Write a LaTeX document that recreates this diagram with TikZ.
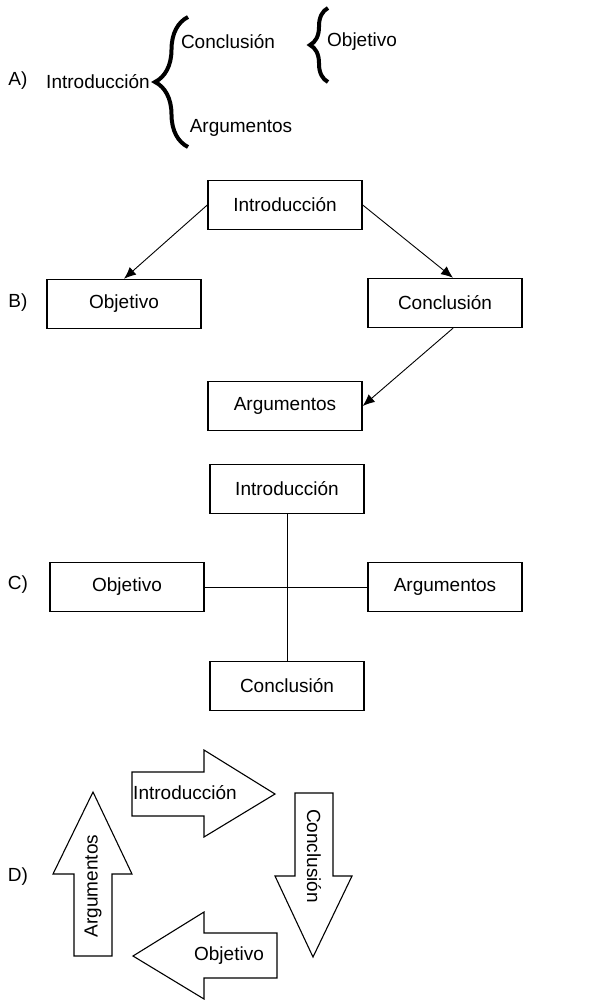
\documentclass[tikz,border=0pt]{standalone}
\usepackage{fontspec}
\setmainfont{Liberation Sans}
\usetikzlibrary{arrows.meta,decorations.pathreplacing}
\begin{document}
\begin{tikzpicture}[x=1pt,y=-1pt,>={Latex[length=12pt,width=10pt]},
  font=\fontsize{19}{22}\selectfont,
  caja/.style={draw,line width=1.4pt,minimum width=154,minimum height=49},
  llave/.style={decorate,decoration={brace,amplitude=#1},line width=4pt},
  flecha/.style={draw,line width=1.1pt,line join=miter}]
\useasboundingbox (0,0) rectangle (592,1000);

\foreach \y/\letra in {81/A,303/B,585/C,877/D}
{
    \node (l\letra) at (18,\y) {\letra)};
}

\node (aint) at (98,82) {Introducción};
\node (acon) at (228,42) {Conclusión};
\node (aarg) at (241,128) {Argumentos};
\node (aobj) at (362,42) {Objetivo};
\draw[llave=33] (188,147) -- (188,17);
\draw[llave=18] (328,82) -- (328,8);

\node[caja] (bint) at (285,205) {Introducción};
\node[caja] (bobj) at (124,304) {Objetivo};
\node[caja] (bcon) at (445,303) {Conclusión};
\node[caja] (barg) at (285,406) {Argumentos};
\draw[->,line width=0.9pt] (bint.west) -- (bobj.north);
\draw[->,line width=0.9pt] (bint.east) -- ([xshift=8]bcon.north);
\draw[->,line width=0.9pt] ([xshift=8]bcon.south) -- (barg.east);

\node[caja] (cint) at (287,489) {Introducción};
\node[caja] (cobj) at (127,587) {Objetivo};
\node[caja] (carg) at (445,587) {Argumentos};
\node[caja] (ccon) at (287,686) {Conclusión};
\draw[line width=0.9pt] (cint.south) -- (ccon.north);
\draw[line width=0.9pt] (cobj.east) -- (carg.west);

\path[flecha] (132,772) -- (204,772) -- (204,750) -- (275,794) -- (204,837) -- (204,816) -- (132,816) -- cycle;
\path[flecha] (295,793) -- (333,793) -- (333,876) -- (352,876) -- (313,957) -- (275,876) -- (295,876) -- cycle;
\path[flecha] (277,933) -- (204,933) -- (204,912) -- (133,956) -- (204,999) -- (204,978) -- (277,978) -- cycle;
\path[flecha] (74,956) -- (74,874) -- (53,874) -- (93,792) -- (132,874) -- (112,874) -- (112,956) -- cycle;
\node (dint) at (185,793) {Introducción};
\node[rotate=-90] (dcon) at (314,856) {Conclusión};
\node (dobj) at (229,956) {Objetivo};
\node[rotate=90] (darg) at (93,886) {Argumentos};

\end{tikzpicture}
\end{document}
